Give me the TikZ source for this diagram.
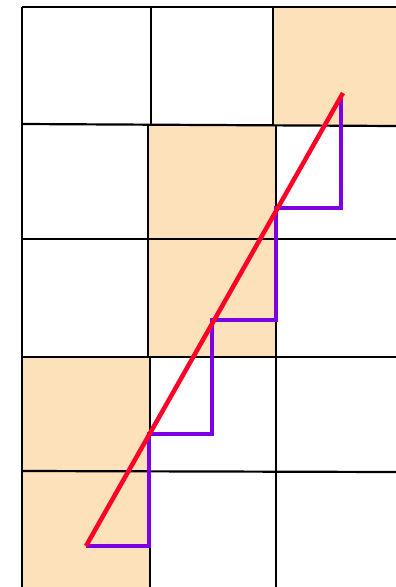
\documentclass[tikz,border=0pt]{standalone}
\usepackage{tikz}

\definecolor{peach}{RGB}{252,225,186}
\definecolor{linered}{RGB}{255,0,40}
\definecolor{steppurple}{RGB}{125,0,228}

\begin{document}
\begin{tikzpicture}[x=1pt,y=-1pt]
    \useasboundingbox (0,0) rectangle (396,587);

    \fill[peach] (273,7) rectangle (396,125);
    \fill[peach] (148,125) rectangle (276,239);
    \fill[peach] (148,239) rectangle (276,357);
    \fill[peach] (22,357) rectangle (150,471);
    \fill[peach] (22,471) rectangle (150,587);

    \draw[line width=2.2pt] (22,7) -- (396,7);
    \draw[line width=2.2pt] (22,124) -- (396,126);
    \draw[line width=2.2pt] (22,239) -- (396,239);
    \draw[line width=2.2pt] (22,357) -- (396,357);
    \draw[line width=2.2pt] (22,471) -- (396,472);

    \draw[line width=2.2pt] (22,7) -- (22,587);
    \draw[line width=2.2pt] (151,7) -- (151,125);
    \draw[line width=2.2pt] (148,125) -- (148,357);
    \draw[line width=2.2pt] (150,357) -- (150,587);
    \draw[line width=2.2pt] (273,7) -- (273,125);
    \draw[line width=2.2pt] (276,125) -- (276,587);

    \coordinate (s) at (86,546);
    \coordinate (e) at (343,93);

    \draw[steppurple, line width=3.5pt] (s) -- (149,546) -- (149,434)
        -- (212,434) -- (212,320) -- (276,320) -- (276,208)
        -- (341,208) -- (341,95);
    \draw[linered, line width=4.5pt] (s) -- (e);
\end{tikzpicture}
\end{document}
